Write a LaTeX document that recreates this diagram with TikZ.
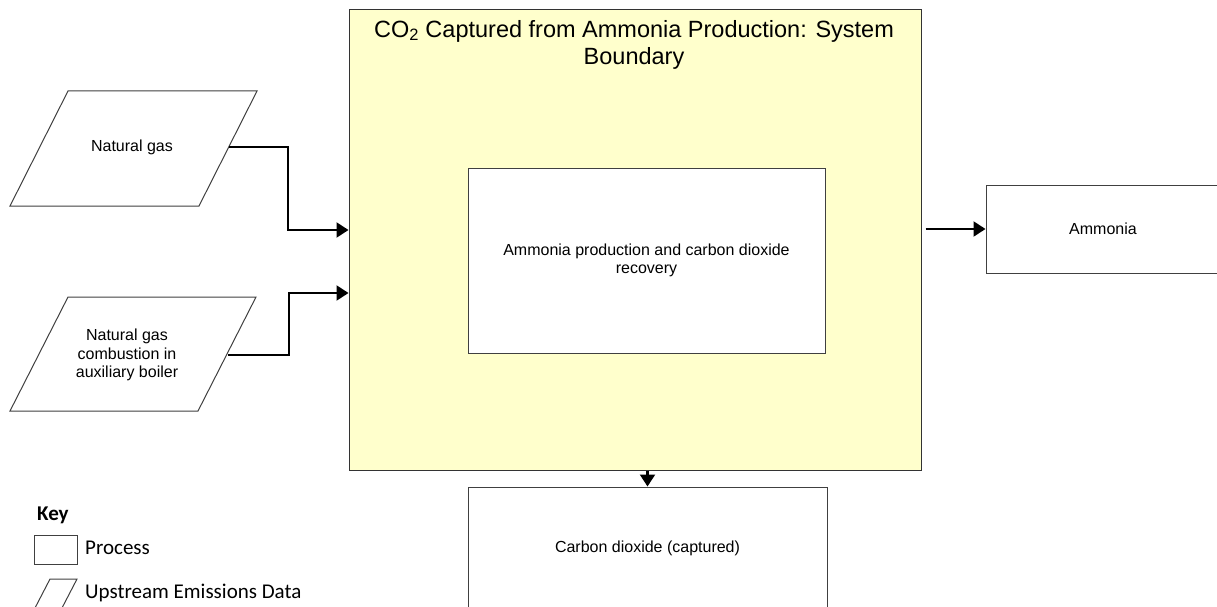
\documentclass[tikz,border=0pt]{standalone}
\usepackage{fontspec}
\setmainfont{Liberation Sans}
\newfontfamily\keyfont{Carlito}
\usetikzlibrary{arrows.meta}
\definecolor{bndyellow}{HTML}{FFFFCC}
\tikzset{
  proc/.style={draw=black!75,fill=white,line width=1pt,inner sep=0pt,align=center,
    font=\fontsize{16}{18.5}\selectfont},
  upbox/.style={draw=black!75,fill=white,line width=1pt,line join=miter},
  uplbl/.style={inner sep=0pt,align=center,font=\fontsize{16}{18.5}\selectfont},
  flow/.style={line width=2.2pt,-{Triangle[length=12pt,width=15pt]}},
  keytxt/.style={inner sep=0pt,anchor=west,font=\keyfont\fontsize{21}{24}\selectfont},
}
\begin{document}
\begin{tikzpicture}[x=1pt,y=-1pt]
  \useasboundingbox (0,0) rectangle (1217,607);
  \clip (0,0) rectangle (1217,607);

  % system boundary
  \node[draw=black!80,fill=bndyellow,line width=1pt,minimum width=572pt,minimum height=460pt] (sysb) at (635,240) {};
  \node[align=center,inner sep=0pt,font=\fontsize{23.5}{27}\selectfont] (title) at (634,44.5)
    {CO\textsubscript{2} Captured from Ammonia Production: System\\Boundary};
  \node[proc,minimum width=357pt,minimum height=185pt] (ammprod) at (646.5,260.5)
    {Ammonia production and carbon dioxide\\recovery};

  % inputs
  \draw[upbox] (68,91) -- (257,91) -- (199,206) -- (10,206) -- cycle;
  \node[uplbl] (ng) at (132,147) {Natural gas};
  \coordinate (ng-out) at (229,147);
  \draw[upbox] (68,297) -- (256,297) -- (198,411) -- (10,411) -- cycle;
  \node[uplbl] (ngboil) at (127,355) {Natural gas\\combustion in\\auxiliary boiler};
  \coordinate (ngboil-out) at (228,355);

  % outputs
  \node[proc,minimum width=234pt,minimum height=88pt] (amm) at (1103,229) {Ammonia};
  \node[proc,minimum width=359pt,minimum height=122pt] (co2) at (647.5,548) {Carbon dioxide (captured)};

  \draw[flow] (ng-out) -- ++(59,0) |- ([yshift=10pt]sysb.west);
  \draw[flow] (ngboil-out) -- ++(61,0) |- ([yshift=-53pt]sysb.west);
  \draw[flow] ([xshift=4pt]sysb.east |- amm.west) -- (amm.west);
  \draw[flow] (co2.north |- sysb.south) -- (co2.north);

  % key
  \node[keytxt,font=\keyfont\bfseries\fontsize{21}{24}\selectfont] (key) at (37,515) {Key};
  \node[proc,minimum width=43pt,minimum height=29pt] (keyproc) at (55.5,550) {};
  \node[keytxt] (keyproclbl) at (85,548) {Process};
  \draw[upbox] (50,579) -- (77,579) -- (62,608) -- (35,608) -- cycle;
  \node[keytxt] (keyuplbl) at (85,593) {Upstream Emissions Data};
\end{tikzpicture}
\end{document}
